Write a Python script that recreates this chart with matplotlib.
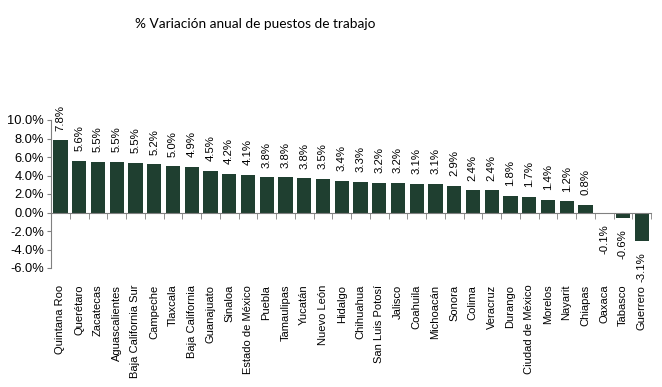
import matplotlib
matplotlib.use("Agg")
import matplotlib.pyplot as plt
import numpy as np

states = ["Quintana Roo", "Querétaro", "Zacatecas", "Aguascalientes", "Baja California Sur",
          "Campeche", "Tlaxcala", "Baja California", "Guanajuato", "Sinaloa",
          "Estado de México", "Puebla", "Tamaulipas", "Yucatán", "Nuevo León",
          "Hidalgo", "Chihuahua", "San Luis Potosí", "Jalisco", "Coahuila",
          "Michoacán", "Sonora", "Colima", "Veracruz", "Durango",
          "Ciudad de México", "Morelos", "Nayarit", "Chiapas", "Oaxaca",
          "Tabasco", "Guerrero"]
values = [7.8, 5.6, 5.5, 5.5, 5.4, 5.2, 5.0, 4.9, 4.5, 4.2, 4.1, 3.8, 3.8, 3.7, 3.6,
          3.4, 3.3, 3.2, 3.2, 3.1, 3.1, 2.9, 2.4, 2.4, 1.8, 1.7, 1.4, 1.2, 0.8,
          -0.1, -0.6, -3.1]
labels = ["7.8%", "5.6%", "5.5%", "5.5%", "5.5%", "5.2%", "5.0%", "4.9%", "4.5%", "4.2%",
          "4.1%", "3.8%", "3.8%", "3.8%", "3.5%", "3.4%", "3.3%", "3.2%", "3.2%", "3.1%",
          "3.1%", "2.9%", "2.4%", "2.4%", "1.8%", "1.7%", "1.4%", "1.2%", "0.8%",
          "-0.1%", "-0.6%", "-3.1%"]
yticks = [-6, -4, -2, 0, 2, 4, 6, 8, 10]

plt.rcParams['font.family'] = ['Liberation Sans', 'DejaVu Sans']

fig = plt.figure(figsize=(6.62, 3.87), dpi=100)
ax = fig.add_axes([51/662, 1-268/387, 600/662, 148/387])

x = np.arange(len(states))
bars = ax.bar(x, values, width=0.76, color="#1F3F30")
ax.set_xlim(-0.5, len(states)-0.5)
ax.set_ylim(-6, 10)

for b, v, lab in zip(bars, values, labels):
    xc = b.get_x() + b.get_width()/2
    if v >= 0:
        ax.annotate(lab, (xc, v), xytext=(0, 7), textcoords="offset points",
                    rotation=90, ha="center", va="bottom", fontsize=8.2, clip_on=False)
    else:
        ax.annotate(lab, (xc, v), xytext=(0, -8), textcoords="offset points",
                    rotation=90, ha="center", va="top", fontsize=8.2, clip_on=False)

ax.set_yticks(yticks)
ax.set_yticklabels([f"{t:.1f}%" for t in yticks], fontsize=9.3)
ax.tick_params(axis="y", direction="out", length=3, color="#808080", pad=2)

ax.spines['bottom'].set_position(('data', 0))
ax.spines['bottom'].set_color("#808080")
ax.spines['left'].set_color("#808080")
ax.spines['top'].set_visible(False)
ax.spines['right'].set_visible(False)

ax.set_xticks(x)
ax.set_xticklabels(states, rotation=90, fontsize=8, va="top", ha="center")
ax.tick_params(axis="x", which="major", length=0, pad=52)
ax.set_xticks(np.arange(-0.5, len(states), 1.0), minor=True)
ax.tick_params(axis="x", which="minor", length=4, color="#808080", direction="out")

fig.text(255/662, 1-24/387, "% Variación anual de puestos de trabajo",
         ha="center", va="center", fontsize=9.8, family=["Lato", "DejaVu Sans"])

fig.savefig("out.png", dpi=100)
